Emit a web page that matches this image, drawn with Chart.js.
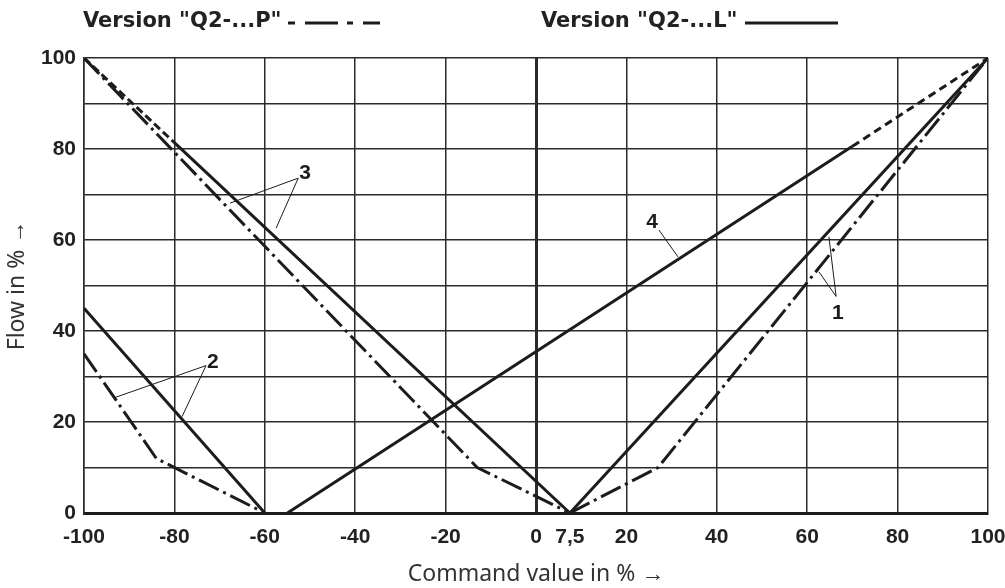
<!DOCTYPE html>
<html>
<head>
<title>Flow vs command value</title>
<script src="https://cdn.jsdelivr.net/npm/chart.js"></script>
<style>
  body { margin: 0; background: #fff; }
</style>
</head>
<body>
<canvas id="flowChart" width="1005" height="588"></canvas>
<script>
// x axis tick values (7.5 gets its own label)
const xTicks = [-100, -80, -60, -40, -20, 0, 7.5, 20, 40, 60, 80, 100];

// curve 1
const c1SolidX = [7.5, 100];
const c1SolidY = [0, 100];
const c1DashX = [7.5, 27, 100];
const c1DashY = [0, 10, 100];
// curve 2
const c2SolidX = [-100, -60];
const c2SolidY = [45, 0];
const c2DashX = [-100, -84, -60];
const c2DashY = [35, 12, 0];
// curve 3
const c3SolidX = [-100, -80, 7.5];
const c3SolidY = [100, 81.4, 0];
const c3DashX = [-100, -13, 7.5];
const c3DashY = [100, 10, 0];
// curve 4
const c4X = [-55, 70, 100];
const c4Y = [0, 80.6, 100];

const pts = (xs, ys) => xs.map((x, i) => ({ x: x, y: ys[i] }));

const ink = "#1c1c1c";
const dashDot = [22, 5, 3, 5];
const tickFont = { family: "'Liberation Sans Narrow', 'Liberation Sans', Arial", weight: "bold", size: 21 };
const titleFont = { family: "'Noto Sans', 'Open Sans', sans-serif", size: 23 };

function line(data, extra) {
  return Object.assign({
    data: data,
    borderColor: ink,
    borderWidth: 3,
    pointRadius: 0,
    tension: 0,
    fill: false,
  }, extra || {});
}

// callouts: label text, label position, leader line ends (data coords)
const callouts = [
  { text: "1", at: [66.8, 44], from: [66.4, 47.6], to: [[64.8, 60.7], [62.6, 53]] },
  { text: "2", at: [-71.5, 33.2], from: [-73, 32.4], to: [[-93.1, 25.4], [-78.3, 21.2]] },
  { text: "3", at: [-51.1, 74.7], from: [-52.6, 73.6], to: [[-67.7, 68.1], [-57.5, 62.6]] },
  { text: "4", at: [25.7, 64], from: [27.2, 62.2], to: [[31.4, 56.3]] },
];

const extras = {
  id: "extras",
  afterDraw(chart) {
    const c = chart.ctx;
    const sx = chart.scales.x, sy = chart.scales.y;
    const X = v => sx.getPixelForValue(v), Y = v => sy.getPixelForValue(v);
    c.save();
    // callouts
    c.strokeStyle = ink;
    c.fillStyle = ink;
    c.lineWidth = 1;
    c.font = "bold 21px 'Liberation Sans Narrow', 'Liberation Sans', Arial";
    c.textAlign = "center";
    c.textBaseline = "middle";
    callouts.forEach(o => {
      o.to.forEach(p => {
        c.beginPath();
        c.moveTo(X(o.from[0]), Y(o.from[1]));
        c.lineTo(X(p[0]), Y(p[1]));
        c.stroke();
      });
      c.fillText(o.text, X(o.at[0]), Y(o.at[1]));
    });

    // version headings with line samples
    c.font = "bold 21px 'DejaVu Sans', 'Liberation Sans', Arial";
    c.textAlign = "left";
    c.fillStyle = "#222";
    c.fillText('Version "Q2-...P"', 83, 22);
    c.fillText('Version "Q2-...L"', 541, 22);
    c.lineWidth = 3;
    c.strokeStyle = ink;
    [[288, 295], [305, 338], [347, 353], [363, 380], [745, 838]].forEach(s => {
      c.beginPath();
      c.moveTo(s[0], 23);
      c.lineTo(s[1], 23);
      c.stroke();
    });
    c.restore();
  }
};

new Chart(document.getElementById("flowChart"), {
  type: "line",
  data: {
    datasets: [
      line(pts(c1SolidX, c1SolidY)),
      line(pts(c1DashX, c1DashY), { borderDash: dashDot }),
      line(pts(c2SolidX, c2SolidY)),
      line(pts(c2DashX, c2DashY), { borderDash: dashDot }),
      line(pts(c3SolidX, c3SolidY), { segment: { borderDash: ctx => ctx.p0DataIndex === 0 ? [8, 4] : undefined } }),
      line(pts(c3DashX, c3DashY), { borderDash: dashDot }),
      line(pts(c4X, c4Y), { segment: { borderDash: ctx => ctx.p0DataIndex === 1 ? [8, 5] : undefined } }),
    ],
  },
  options: {
    responsive: false,
    animation: false,
    layout: { padding: { top: 58, right: 17, left: 0, bottom: 0 } },
    plugins: { legend: { display: false }, tooltip: { enabled: false } },
    scales: {
      x: {
        type: "linear",
        min: -100,
        max: 100,
        afterBuildTicks: s => { s.ticks = xTicks.map(v => ({ value: v })); },
        afterFit: s => { s.height = 75; s.paddingLeft = 0; s.paddingRight = 0; },
        ticks: {
          autoSkip: false,
          maxRotation: 0,
          padding: 12,
          color: "#222",
          font: tickFont,
          callback: v => (v === 7.5 ? "7,5" : String(v)),
        },
        grid: {
          drawTicks: false,
          color: ctx => (ctx.tick && ctx.tick.value === 7.5 ? "rgba(0,0,0,0)" : "#2a2a2a"),
          lineWidth: ctx => (ctx.tick && ctx.tick.value === 0 ? 3 : 1.5),
        },
        border: { width: 3, color: ink },
        title: { display: true, text: "Command value in % →", color: "#333", font: titleFont, padding: { top: 0, bottom: 0 } },
      },
      y: {
        min: 0,
        max: 100,
        afterFit: s => { s.width = 84; },
        ticks: {
          stepSize: 10,
          padding: 8,
          color: "#222",
          font: tickFont,
          callback: v => (v % 20 === 0 ? String(v) : ""),
        },
        grid: {
          drawTicks: false,
          color: "#2a2a2a",
          lineWidth: ctx => (ctx.tick && ctx.tick.value === 0 ? 3 : 1.5),
        },
        border: { width: 1.5, color: "#2a2a2a" },
        title: { display: true, text: "Flow in % →", color: "#333", font: titleFont, padding: { top: 4, bottom: 0 } },
      },
    },
  },
  plugins: [extras],
});
</script>
</body>
</html>
